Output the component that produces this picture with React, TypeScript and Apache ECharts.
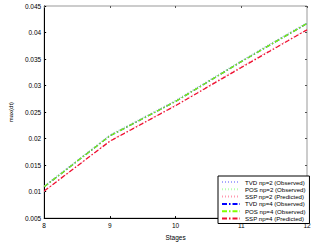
import React, { useEffect, useRef } from "react";
import * as echarts from "echarts";

const stages = [8, 9, 10, 11, 12];
const tvdNp2 = [0.0111, 0.0207, 0.0272, 0.0347, 0.0419];
const posNp2 = [0.0111, 0.0207, 0.0272, 0.0347, 0.0419];
const sspNp2 = [0.0100, 0.0196, 0.0263, 0.0336, 0.0406];
const tvdNp4 = [0.0109, 0.0205, 0.0270, 0.0345, 0.0417];
const posNp4 = [0.0109, 0.0205, 0.0270, 0.0345, 0.0417];
const sspNp4 = [0.0101, 0.0195, 0.0262, 0.0334, 0.0405];
const names = [
  "TVD np=2 (Observed)",
  "POS np=2 (Observed)",
  "SSP np=2 (Predicted)",
  "TVD np=4 (Observed)",
  "POS np=4 (Observed)",
  "SSP np=4 (Predicted)",
];

const FONT = "Liberation Sans";

export default function App() {
  const ref = useRef<HTMLDivElement>(null);
  useEffect(() => {
    const chart = echarts.init(ref.current!, null, { renderer: "svg" });
    const dotted = [1, 2];
    const dashDot = [5, 2, 1.5, 2];
    const mk = (name: string, data: number[], color: string, type: any, width: number) => ({
      name,
      type: "line",
      data: stages.map((s, i) => [s, data[i]]),
      showSymbol: false,
      symbol: "none",
      lineStyle: { color, type, width },
      itemStyle: { color },
    });
    chart.setOption({
      animation: false,
      textStyle: { fontFamily: FONT },
      grid: { left: 30, right: 8, top: 6, bottom: 19, show: true, borderColor: "#999", borderWidth: 1 },
      legend: {
        show: true,
        orient: "vertical",
        left: 218,
        top: 176,
        itemWidth: 18,
        itemHeight: 6,
        itemGap: 1.3,
        itemTextGap: 3,
        padding: [3, 4, 2, 3],
        backgroundColor: "#fff",
        borderColor: "#000",
        borderWidth: 1,
        itemStyle: { opacity: 0 },
        textStyle: { fontSize: 6.1, fontFamily: FONT, color: "#000" },
        data: names,
      },
      xAxis: [
        {
          type: "value",
          min: 8,
          max: 12,
          interval: 1,
          name: "Stages",
          nameLocation: "middle",
          nameGap: 10,
          nameTextStyle: { fontSize: 6.5, color: "#000" },
          axisLine: { lineStyle: { color: "#000" } },
          axisTick: { inside: true, length: 2, lineStyle: { color: "#000" } },
          axisLabel: { fontSize: 6.5, color: "#000", margin: 4 },
          splitLine: { show: false },
        },
        {
          type: "value",
          position: "top",
          min: 8,
          max: 12,
          interval: 1,
          axisLine: { show: false },
          axisTick: { inside: true, length: 2, lineStyle: { color: "#555" } },
          axisLabel: { show: false },
          splitLine: { show: false },
        },
      ],
      yAxis: [
        {
          type: "value",
          min: 0.005,
          max: 0.045,
          interval: 0.005,
          name: "max(dt)",
          nameLocation: "middle",
          nameGap: 22,
          nameTextStyle: { fontSize: 6, color: "#000" },
          axisLine: { show: true, lineStyle: { color: "#000" } },
          axisTick: { show: true, inside: true, length: 2, lineStyle: { color: "#000" } },
          axisLabel: { fontSize: 6.5, color: "#000", margin: 3 },
          splitLine: { show: false },
        },
        {
          type: "value",
          position: "right",
          min: 0.005,
          max: 0.045,
          interval: 0.005,
          axisLine: { show: false },
          axisTick: { show: true, inside: true, length: 2, lineStyle: { color: "#555" } },
          axisLabel: { show: false },
          splitLine: { show: false },
        },
      ],
      series: [
        mk(names[0], tvdNp2, "#a8a8ff", dotted, 1),
        mk(names[1], posNp2, "#b8ffb0", dotted, 1),
        mk(names[2], sspNp2, "#ff9ab0", dotted, 1),
        mk(names[3], tvdNp4, "#0000ff", dashDot, 1.3),
        mk(names[4], posNp4, "#80ff00", dashDot, 1.3),
        mk(names[5], sspNp4, "#ee1030", dashDot, 1.3),
      ],
    });
    return () => chart.dispose();
  }, []);
  return <div ref={ref} style={{ width: 315, height: 246, position: "absolute", left: 0, top: 0 }} />;
}
